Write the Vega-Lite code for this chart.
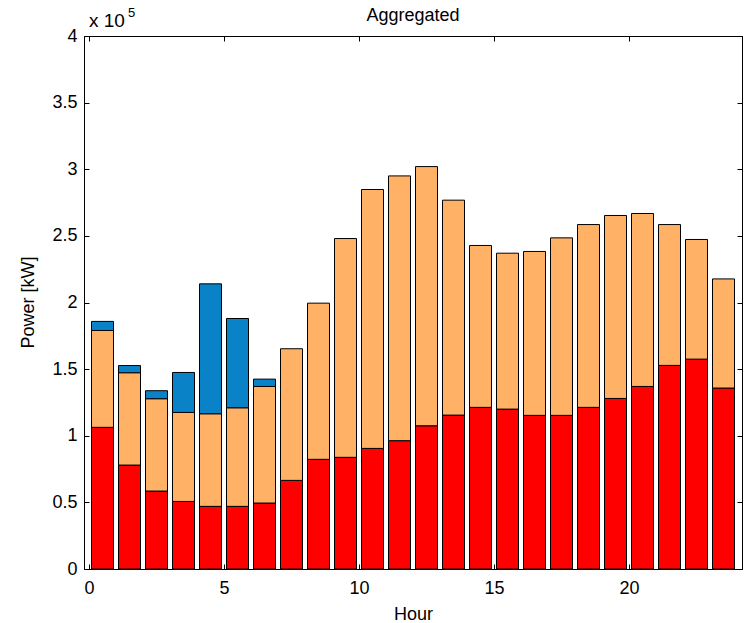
{
  "$schema": "https://vega.github.io/schema/vega-lite/v6.json",
  "width": 658,
  "height": 533,
  "autosize": {"type": "none"},
  "padding": {"left": 84, "top": 36, "right": 2, "bottom": 54},
  "background": "white",
  "config": {
    "font": "Liberation Sans",
    "view": {"stroke": "black", "strokeWidth": 1},
    "axis": {"grid": false, "labelFlush": false, "domainColor": "black", "tickColor": "black", "labelColor": "black", "titleColor": "black", "labelFont": "Liberation Sans", "titleFont": "Liberation Sans", "labelFontSize": 18, "titleFontSize": 18, "titleFontWeight": "normal"}
  },
  "title": {"text": "Aggregated", "fontSize": 18, "fontWeight": "normal", "font": "Liberation Sans", "color": "black", "offset": 0, "dy": 32, "anchor": "middle", "baseline": "alphabetic"},
  "data": {
    "values": [
      {"hour": 0.5, "series": "S1", "power": 106300}, {"hour": 0.5, "series": "S2", "power": 72700}, {"hour": 0.5, "series": "S3", "power": 6800},
      {"hour": 1.5, "series": "S1", "power": 78000}, {"hour": 1.5, "series": "S2", "power": 69300}, {"hour": 1.5, "series": "S3", "power": 5400},
      {"hour": 2.5, "series": "S1", "power": 58500}, {"hour": 2.5, "series": "S2", "power": 69300}, {"hour": 2.5, "series": "S3", "power": 6000},
      {"hour": 3.5, "series": "S1", "power": 50700}, {"hour": 3.5, "series": "S2", "power": 66800}, {"hour": 3.5, "series": "S3", "power": 30000},
      {"hour": 4.5, "series": "S1", "power": 47000}, {"hour": 4.5, "series": "S2", "power": 69500}, {"hour": 4.5, "series": "S3", "power": 97500},
      {"hour": 5.5, "series": "S1", "power": 47000}, {"hour": 5.5, "series": "S2", "power": 74000}, {"hour": 5.5, "series": "S3", "power": 67000},
      {"hour": 6.5, "series": "S1", "power": 49500}, {"hour": 6.5, "series": "S2", "power": 87500}, {"hour": 6.5, "series": "S3", "power": 5500},
      {"hour": 7.5, "series": "S1", "power": 66500}, {"hour": 7.5, "series": "S2", "power": 98800}, {"hour": 7.5, "series": "S3", "power": 0},
      {"hour": 8.5, "series": "S1", "power": 82300}, {"hour": 8.5, "series": "S2", "power": 117200}, {"hour": 8.5, "series": "S3", "power": 0},
      {"hour": 9.5, "series": "S1", "power": 83800}, {"hour": 9.5, "series": "S2", "power": 164200}, {"hour": 9.5, "series": "S3", "power": 0},
      {"hour": 10.5, "series": "S1", "power": 90500}, {"hour": 10.5, "series": "S2", "power": 194300}, {"hour": 10.5, "series": "S3", "power": 0},
      {"hour": 11.5, "series": "S1", "power": 96300}, {"hour": 11.5, "series": "S2", "power": 198700}, {"hour": 11.5, "series": "S3", "power": 0},
      {"hour": 12.5, "series": "S1", "power": 107500}, {"hour": 12.5, "series": "S2", "power": 194500}, {"hour": 12.5, "series": "S3", "power": 0},
      {"hour": 13.5, "series": "S1", "power": 115500}, {"hour": 13.5, "series": "S2", "power": 161300}, {"hour": 13.5, "series": "S3", "power": 0},
      {"hour": 14.5, "series": "S1", "power": 121300}, {"hour": 14.5, "series": "S2", "power": 121500}, {"hour": 14.5, "series": "S3", "power": 0},
      {"hour": 15.5, "series": "S1", "power": 120000}, {"hour": 15.5, "series": "S2", "power": 117000}, {"hour": 15.5, "series": "S3", "power": 0},
      {"hour": 16.5, "series": "S1", "power": 115300}, {"hour": 16.5, "series": "S2", "power": 123000}, {"hour": 16.5, "series": "S3", "power": 0},
      {"hour": 17.5, "series": "S1", "power": 115300}, {"hour": 17.5, "series": "S2", "power": 133200}, {"hour": 17.5, "series": "S3", "power": 0},
      {"hour": 18.5, "series": "S1", "power": 121300}, {"hour": 18.5, "series": "S2", "power": 137200}, {"hour": 18.5, "series": "S3", "power": 0},
      {"hour": 19.5, "series": "S1", "power": 128000}, {"hour": 19.5, "series": "S2", "power": 137300}, {"hour": 19.5, "series": "S3", "power": 0},
      {"hour": 20.5, "series": "S1", "power": 137000}, {"hour": 20.5, "series": "S2", "power": 129800}, {"hour": 20.5, "series": "S3", "power": 0},
      {"hour": 21.5, "series": "S1", "power": 152800}, {"hour": 21.5, "series": "S2", "power": 105700}, {"hour": 21.5, "series": "S3", "power": 0},
      {"hour": 22.5, "series": "S1", "power": 157500}, {"hour": 22.5, "series": "S2", "power": 89800}, {"hour": 22.5, "series": "S3", "power": 0},
      {"hour": 23.5, "series": "S1", "power": 135800}, {"hour": 23.5, "series": "S2", "power": 81900}, {"hour": 23.5, "series": "S3", "power": 0}
    ]
  },
  "layer": [
    {
      "transform": [{"filter": "datum.power > 0"}],
      "mark": {"type": "bar", "size": 22, "stroke": "black", "strokeWidth": 1, "opacity": 1},
      "encoding": {
        "x": {
          "field": "hour", "type": "quantitative",
          "scale": {"domain": [0, 24], "nice": false, "zero": false},
          "axis": {"values": [0, 5, 10, 15, 20], "title": "Hour", "tickSize": -5, "labelPadding": 15, "labelBaseline": "top", "titleY": 50, "titleBaseline": "alphabetic", "domainWidth": 1}
        },
        "y": {
          "aggregate": "sum", "field": "power", "type": "quantitative", "stack": "zero",
          "scale": {"domain": [0, 400000], "nice": false},
          "axis": {"values": [0, 50000, 100000, 150000, 200000, 250000, 300000, 350000, 400000], "labelExpr": "format(datum.value / 100000, '')", "title": "Power [kW]", "tickSize": -5, "labelPadding": 12, "titleX": -56, "titleY": 266, "titleAngle": -90, "titleBaseline": "middle", "titleAlign": "center", "domainWidth": 1}
        },
        "color": {"field": "series", "type": "nominal", "scale": {"domain": ["S1", "S2", "S3"], "range": ["#FF0000", "#FFB266", "#0A82C8"]}, "legend": null},
        "order": {"field": "series", "sort": "ascending"}
      }
    },
    {
      "data": {"values": [{"label": "x 10"}]},
      "mark": {"type": "rule", "opacity": 0},
      "encoding": {
        "x": {"datum": 0, "type": "quantitative", "axis": {"orient": "top", "values": [0, 5, 10, 15, 20], "labels": false, "title": null, "tickSize": -5, "domainWidth": 1}},
        "y": {"datum": 0, "type": "quantitative", "axis": {"orient": "right", "values": [0, 50000, 100000, 150000, 200000, 250000, 300000, 350000, 400000], "labels": false, "title": null, "tickSize": -5, "domainWidth": 1}}
      }
    },
    {
      "data": {"values": [{"label": "x 10", "exponent": "5"}]},
      "layer": [
        {
          "mark": {"type": "text", "align": "left", "baseline": "alphabetic", "dy": -9, "fontSize": 19, "font": "Liberation Sans", "color": "black"},
          "encoding": {"text": {"field": "label"}, "x": {"datum": 0, "type": "quantitative", "axis": null}, "y": {"datum": 400000, "type": "quantitative", "axis": null}}
        },
        {
          "mark": {"type": "text", "align": "left", "baseline": "alphabetic", "dx": 39, "dy": -19, "fontSize": 13, "font": "Liberation Sans", "color": "black"},
          "encoding": {"text": {"field": "exponent"}, "x": {"datum": 0, "type": "quantitative", "axis": null}, "y": {"datum": 400000, "type": "quantitative", "axis": null}}
        }
      ]
    }
  ],
  "resolve": {"axis": {"x": "independent", "y": "independent"}}
}
